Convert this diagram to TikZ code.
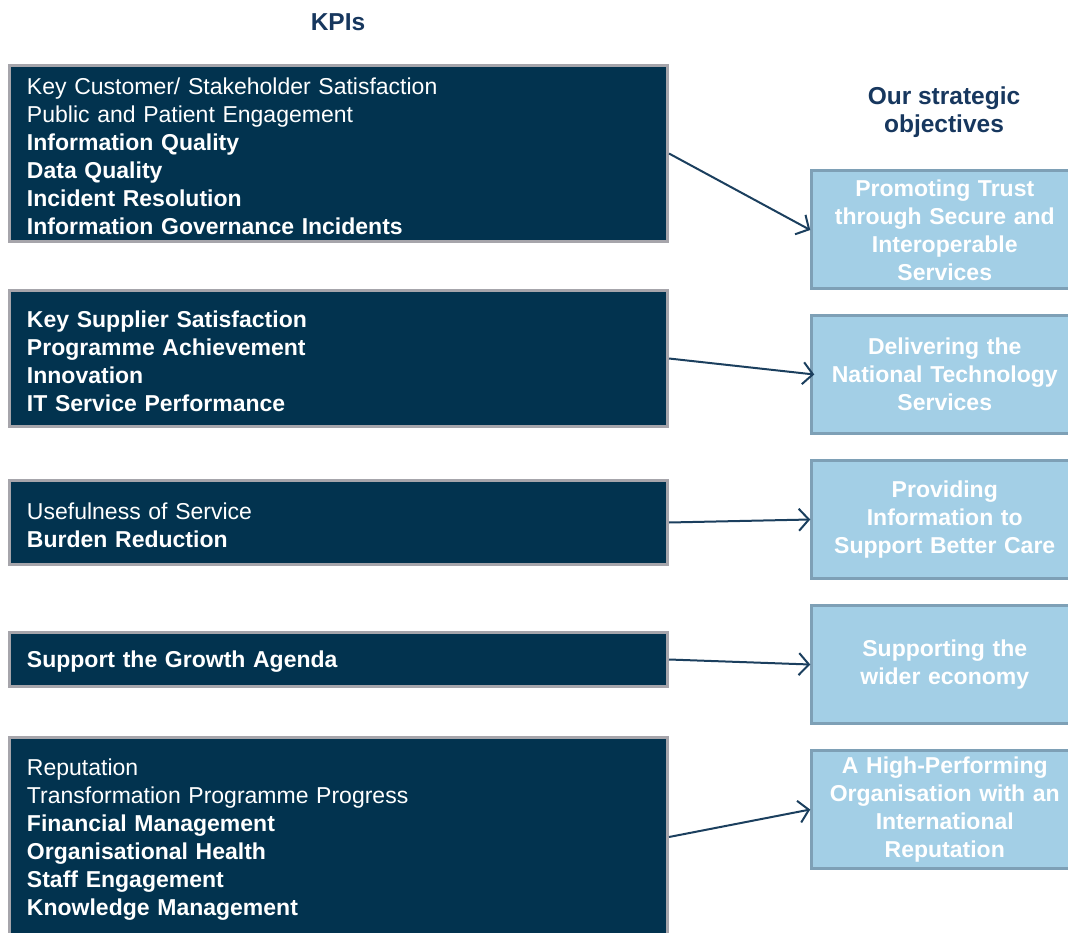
\documentclass[tikz,border=0pt]{standalone}
\usepackage{fontspec}
\setmainfont{Liberation Sans}
\usetikzlibrary{arrows.meta}
\definecolor{navy}{HTML}{02334F}
\definecolor{kpiborder}{HTML}{A6A5AB}
\definecolor{objfill}{HTML}{A3CFE6}
\definecolor{objborder}{HTML}{7EA0B6}
\definecolor{titlecol}{HTML}{17375E}
\definecolor{arrowcol}{HTML}{1B3F5E}
\begin{document}
\begin{tikzpicture}[x=1pt,y=-1pt,
  kpibox/.style={draw=kpiborder, fill=navy, line width=3pt, text=white,
    minimum width=658pt, inner xsep=17.5pt, inner ysep=0pt, text width=623pt,
    align=left, font=\fontsize{23}{28}\selectfont,
    execute at end node={\endgraf\vspace*{-5pt}}},
  objbox/.style={draw=objborder, fill=objfill, line width=3pt, text=white,
    minimum width=266pt, minimum height=118pt, inner xsep=6pt, inner ysep=0pt,
    text width=254pt, align=center, font=\bfseries\fontsize{23}{28}\selectfont},
  title/.style={text=titlecol, align=center, font=\bfseries\fontsize{24.5}{28}\selectfont},
  link/.style={draw=arrowcol, line width=2pt, -{Straight Barb[length=10pt,width=22pt,line width=2pt]}}
]
\useasboundingbox (0,0) rectangle (1068,933);

\node[title] (kpis) at (338,22) {KPIs};
\node[title] (objs) at (944,112) {Our strategic\\objectives};

\node[kpibox, minimum height=176pt] (k1) at (338.5,153.5)
  {Key Customer/ Stakeholder Satisfaction\\
   Public and Patient Engagement\\
   \textbf{Information Quality}\\
   \textbf{Data Quality}\\
   \textbf{Incident Resolution}\\
   \textbf{Information Governance Incidents}};
\node[kpibox, minimum height=136pt] (k2) at (338.5,358.5)
  {\textbf{Key Supplier Satisfaction}\\
   \textbf{Programme Achievement}\\
   \textbf{Innovation}\\
   \textbf{IT Service Performance}};
\node[kpibox, minimum height=84pt] (k3) at (338.5,522.5)
  {Usefulness of Service\\
   \textbf{Burden Reduction}};
\node[kpibox, minimum height=54pt] (k4) at (338.5,659.5)
  {\textbf{Support the Growth Agenda}};
\node[kpibox, minimum height=199pt] (k5) at (338.5,837)
  {Reputation\\
   Transformation Programme  Progress\\
   \textbf{Financial Management}\\
   \textbf{Organisational Health}\\
   \textbf{Staff Engagement}\\
   \textbf{Knowledge Management}};

\node[objbox] (o1) at (944.75,230) {Promoting Trust\\through Secure and\\Interoperable\\Services};
\node[objbox] (o2) at (944.75,374.5) {Delivering the\\National Technology\\Services};
\node[objbox] (o3) at (944.75,519.5) {Providing\\Information to\\Support Better Care};
\node[objbox] (o4) at (944.75,664.5) {Supporting the\\wider economy};
\node[objbox] (o5) at (944.75,809.5) {A High-Performing\\Organisation with an\\International\\Reputation};

\draw[link] (k1.east) -- (o1.west);
\draw[link] (k2.east) -- ([xshift=4pt]o2.west);
\draw[link] (k3.east) -- (o3.west);
\draw[link] (k4.east) -- (o4.west);
\draw[link] (k5.east) -- (o5.west);
\end{tikzpicture}
\end{document}
